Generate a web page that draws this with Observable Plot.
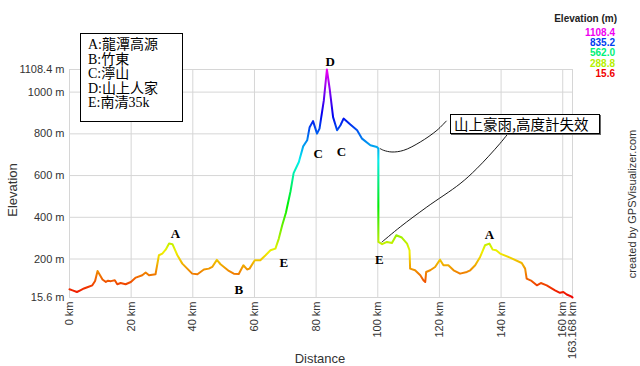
<!DOCTYPE html>
<html><head><meta charset="utf-8">
<script src="https://cdn.jsdelivr.net/npm/d3@7"></script>
<script src="https://cdn.jsdelivr.net/npm/@observablehq/plot@0.6"></script>
<style>
body{margin:0;background:#fff;}
#wrap{position:relative;width:640px;height:366px;overflow:hidden;font-family:"Liberation Sans",Arial,sans-serif;}
#wrap svg{position:absolute;left:0;top:0;}
.ov{position:absolute;white-space:nowrap;}
</style></head><body><div id="wrap"></div>
<script>
// ---- data ----
const distanceKm = [0,1.0,2.4,3.5,4.7,6.0,7.4,8.3,9.1,10.0,10.7,11.8,12.5,13.4,14.7,15.5,16.6,18.2,19.9,21.5,23.6,24.7,25.8,27.9,29.0,30.1,31.2,32.3,33.4,35.0,36.6,38.2,39.8,41.5,43.6,45.2,46.3,47.8,49.0,50.1,51.7,53.3,54.9,56.4,57.6,58.4,60.1,61.9,63.6,65.2,66.8,67.9,69.0,70.2,71.7,72.7,74.4,75.8,77.1,77.9,79.0,80.3,81.1,82.5,83.5,84.4,85.5,86.8,87.9,88.9,91.1,93.3,94.9,97.6,99.7,100.2,100.2,101.4,103.0,104.6,106.0,107.8,109.5,110.3,110.5,112.1,113.8,114.8,115.4,115.7,117.0,118.6,120.2,121.3,122.9,124.6,126.7,128.9,130.0,131.6,133.2,134.8,136.2,137.3,138.4,139.7,142.9,146.7,147.8,148.3,149.9,151.6,152.9,154.8,157.5,159.1,160.2,161.3,162.9,163.168];
const elevationM = [55,50,42,50,59,66,74,95,143,120,102,90,96,94,98,79,85,79,90,111,122,135,122,127,218,226,245,274,271,218,178,154,130,127,150,154,162,196,175,162,143,130,128,170,150,154,194,194,218,242,250,298,362,422,525,612,665,740,769,832,861,801,825,960,1108.4,1016,880,817,841,873,845,817,777,745,737,730,282,271,282,277,314,303,274,242,154,146,122,98,90,138,146,162,197,170,170,146,130,138,146,170,210,266,274,245,242,226,207,181,154,106,95,74,85,74,50,38,42,30,20,15.6];
const yTicks = [15.6,200,400,600,800,1000,1108.4];
const xTicks = [0,20,40,60,80,100,120,140,160,163.168];
const legendValues = [1108.4,835.2,562.0,288.8,15.6];
const markerLetters = ["A","B","E","C","C","D","E","A"];
const markerKm = [34.4,54.9,69.5,80.7,88.2,84.6,100.5,136.2];
const markerM = [323,50,180,706,716,1146,194,318];
const keyLines = ["A:龍潭高源","B:竹東","C:濘山","D:山上人家","E:南清35k"];
const calloutText = "山上豪雨,高度計失效";
const callout1Km = [122.2,119.2,113.8,108.4,104.6,101.9,100.8];
const callout1M = [861,817,761,721,713,721,729];
const callout2Km = [143.5,139.6,132.1,126.7,115.9,107.3,101.4];
const callout2M = [825,753,633,561,449,354,282];

const profile = distanceKm.map((d,i)=>({km:d, m:elevationM[i]}));
const markers = markerLetters.map((t,i)=>({t, km:markerKm[i], m:markerM[i]}));
const c1 = callout1Km.map((d,i)=>({km:d, m:callout1M[i]}));
const c2 = callout2Km.map((d,i)=>({km:d, m:callout2M[i]}));

const lo = 15.6, hi = 1108.4;
const elevColor = v => d3.hsl(300*(v-lo)/(hi-lo), 1, 0.47).formatHex();

const chart = Plot.plot({
  width:640, height:366,
  marginLeft:69, marginRight:68, marginTop:69, marginBottom:69,
  style:{fontFamily:"Liberation Sans, Arial, sans-serif", fontSize:"11px", color:"#333", background:"transparent", overflow:"visible"},
  x:{domain:[0,163.168], ticks:xTicks, tickFormat:d=> d===163.168 ? "163.168 km" : d+" km", tickRotate:-90, tickSize:0, tickPadding:4, label:null},
  y:{domain:[lo,hi], ticks:yTicks, tickFormat:d=>d+" m", tickSize:0, tickPadding:5, label:null},
  marks:[
    Plot.ruleX(xTicks, {stroke:"#d6d6d6", strokeWidth:1}),
    Plot.ruleY(yTicks, {stroke:"#d6d6d6", strokeWidth:1}),
    Plot.line(profile, {x:"km", y:"m", stroke:"url(#elevGrad)", strokeWidth:2}),
    Plot.line(c1, {x:"km", y:"m", curve:"catmull-rom", stroke:"#000", strokeWidth:0.9}),
    Plot.line(c2, {x:"km", y:"m", curve:"catmull-rom", stroke:"#000", strokeWidth:0.9}),
    Plot.text(markers, {x:"km", y:"m", text:"t", fill:"#000", fontFamily:"Liberation Serif, serif", fontSize:13, fontWeight:"bold"})
  ]
});

const ys = chart.scale("y");
const svg = d3.select(chart);
const defs = svg.insert("defs", ":first-child");
const grad = defs.append("linearGradient").attr("id","elevGrad")
  .attr("gradientUnits","userSpaceOnUse")
  .attr("x1",0).attr("x2",0).attr("y1",ys.apply(lo)).attr("y2",ys.apply(hi));
for (let i=0;i<=30;i++){
  const t=i/30;
  grad.append("stop").attr("offset",t).attr("stop-color",elevColor(lo+t*(hi-lo)));
}

const wrap = document.getElementById("wrap");
wrap.appendChild(chart);

function ov(html, css){
  const d=document.createElement("div"); d.className="ov"; d.innerHTML=html; d.style.cssText+=css; wrap.appendChild(d); return d;
}
// axis titles
ov("Elevation","left:12px;top:190px;transform:translate(-50%,-50%) rotate(-90deg);font-size:13px;color:#333;");
ov("Distance","left:320px;top:358px;transform:translate(-50%,-50%);font-size:13px;color:#333;");
// credit
ov("created by GPSVisualizer.com","left:632px;top:204px;transform:translate(-50%,-50%) rotate(-90deg);font-size:11px;color:#333;");
// legend
ov("Elevation (m)","right:23px;top:13px;font-size:10px;font-weight:bold;color:#222;");
legendValues.forEach((v,i)=>{
  ov(v.toFixed(1),`right:25px;top:${27+i*10.2}px;font-size:10px;font-weight:bold;color:${elevColor(v)};line-height:11px;`);
});
// key box
ov(keyLines.map(s=>`<div>${s}</div>`).join(""),
  "left:80px;top:33px;width:88px;height:80px;border:1px solid #000;background:#fff;padding:4px 6px 3px 7px;font-family:'Liberation Serif','Noto Sans CJK TC',serif;font-size:14px;line-height:14.6px;color:#000;");
// callout box
ov(calloutText,"left:450px;top:114px;width:143px;height:18px;border:1px solid #000;box-shadow:1px 1px 0 #666;background:#fff;padding:0 2px 0 3px;font-family:'Noto Sans CJK TC',sans-serif;font-size:14.5px;line-height:18px;color:#000;");
</script></body></html>
